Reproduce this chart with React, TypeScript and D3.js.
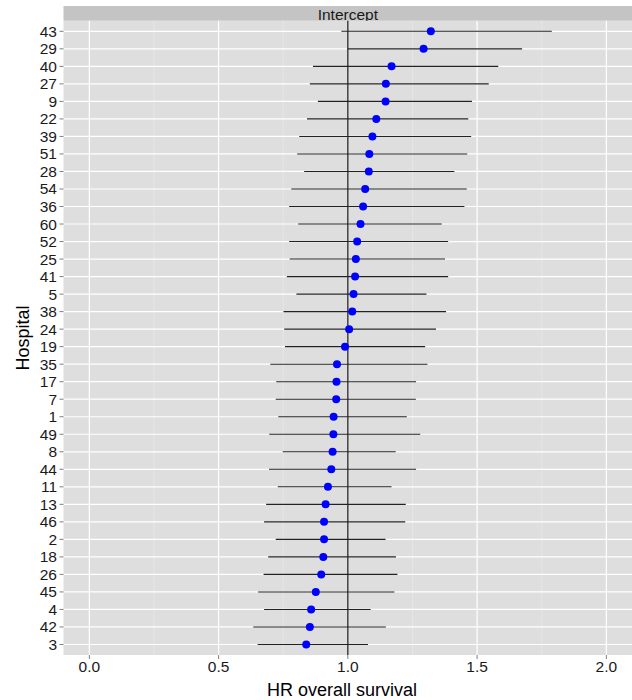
import * as d3 from "d3";

const hospitals = [
  "43", "29", "40", "27", "9", "22", "39", "51", "28", "54", "36", "60",
  "52", "25", "41", "5", "38", "24", "19", "35", "17", "7", "1", "49",
  "8", "44", "11", "13", "46", "2", "18", "26", "45", "4", "42", "3",
];
const hr = [
  1.321, 1.293, 1.169, 1.147, 1.146, 1.11, 1.095, 1.083, 1.081, 1.067, 1.059, 1.049,
  1.036, 1.031, 1.028, 1.022, 1.017, 1.005, 0.989, 0.958, 0.956, 0.955, 0.945, 0.944,
  0.941, 0.936, 0.923, 0.914, 0.908, 0.908, 0.905, 0.897, 0.876, 0.858, 0.853, 0.839,
];
const lower = [
  0.975, 1.0, 0.865, 0.853, 0.884, 0.842, 0.812, 0.804, 0.831, 0.781, 0.773, 0.808,
  0.773, 0.775, 0.764, 0.801, 0.751, 0.754, 0.757, 0.7, 0.723, 0.721, 0.731, 0.696,
  0.748, 0.695, 0.729, 0.684, 0.676, 0.721, 0.692, 0.674, 0.653, 0.676, 0.634, 0.651,
];
const upper = [
  1.789, 1.674, 1.582, 1.545, 1.48, 1.466, 1.477, 1.462, 1.412, 1.46, 1.451, 1.363,
  1.388, 1.376, 1.388, 1.304, 1.38, 1.341, 1.299, 1.308, 1.264, 1.263, 1.228, 1.28,
  1.185, 1.264, 1.169, 1.224, 1.222, 1.146, 1.186, 1.192, 1.18, 1.088, 1.147, 1.078,
];
const xTicks = [0, 0.5, 1, 1.5, 2];
const xMinor = [0.25, 0.75, 1.25, 1.75];

const W = 632;
const H = 700;
const panel = { left: 63.5, right: 632.2, top: 20.8, bottom: 655 };
const stripTop = 6;
const font = "'Liberation Sans', Arial, Helvetica, sans-serif";

export default function App() {
  const x = d3.scaleLinear().domain([-0.1, 2.1]).range([panel.left, panel.right]);
  const y = d3.scalePoint<string>().domain(hospitals).range([panel.top, panel.bottom]).padding(0.6);
  const fmt = d3.format(".1f");

  return (
    <svg width={W} height={H} style={{ position: "absolute", left: 0, top: 0 }} fontFamily={font}>
      <rect x={0} y={0} width={W} height={H} fill="#ffffff" />
      {/* strip */}
      <rect x={panel.left} y={stripTop} width={panel.right - panel.left} height={panel.top - stripTop} fill="#c4c4c4" />
      <text x={(panel.left + panel.right) / 2} y={19.8} textAnchor="middle" fontSize={15.5} fill="#1a1a1a">
        Intercept
      </text>
      {/* panel */}
      <rect x={panel.left} y={panel.top} width={panel.right - panel.left} height={panel.bottom - panel.top} fill="#dedede" />
      {xMinor.map((t) => (
        <line key={"m" + t} x1={x(t)} x2={x(t)} y1={panel.top} y2={panel.bottom} stroke="#ebebeb" strokeWidth={0.6} />
      ))}
      {xTicks.map((t) => (
        <line key={"g" + t} x1={x(t)} x2={x(t)} y1={panel.top} y2={panel.bottom} stroke="#ffffff" strokeWidth={1.2} />
      ))}
      {hospitals.map((h) => (
        <line key={"r" + h} x1={panel.left} x2={panel.right} y1={y(h)} y2={y(h)} stroke="#ffffff" strokeWidth={1.2} />
      ))}
      {/* reference line */}
      <line x1={x(1)} x2={x(1)} y1={panel.top} y2={panel.bottom} stroke="#111111" strokeWidth={1.2} />
      {/* intervals and points */}
      {hospitals.map((h, i) => (
        <line key={"e" + h} x1={x(lower[i])} x2={x(upper[i])} y1={y(h)} y2={y(h)} stroke="#222222" strokeWidth={1.1} />
      ))}
      {hospitals.map((h, i) => (
        <circle key={"p" + h} cx={x(hr[i])} cy={y(h)} r={4} fill="#0000ff" />
      ))}
      {/* y axis */}
      {hospitals.map((h) => (
        <g key={"y" + h}>
          <line x1={panel.left - 4} x2={panel.left} y1={y(h)} y2={y(h)} stroke="#7f7f7f" strokeWidth={1} />
          <text x={panel.left - 6.5} y={(y(h) ?? 0) + 5.5} textAnchor="end" fontSize={15.5} fill="#1a1a1a">
            {h}
          </text>
        </g>
      ))}
      {/* x axis */}
      {xTicks.map((t) => (
        <g key={"x" + t}>
          <line x1={x(t)} x2={x(t)} y1={panel.bottom} y2={panel.bottom + 4} stroke="#7f7f7f" strokeWidth={1} />
          <text x={x(t)} y={672} textAnchor="middle" fontSize={15.5} fill="#1a1a1a">
            {fmt(t)}
          </text>
        </g>
      ))}
      <text x={342} y={696} textAnchor="middle" fontSize={18} fill="#000000">
        HR overall survival
      </text>
      <text
        transform={`translate(28.5,${(panel.top + panel.bottom) / 2}) rotate(-90)`}
        textAnchor="middle"
        fontSize={18}
        fill="#000000"
      >
        Hospital
      </text>
    </svg>
  );
}
